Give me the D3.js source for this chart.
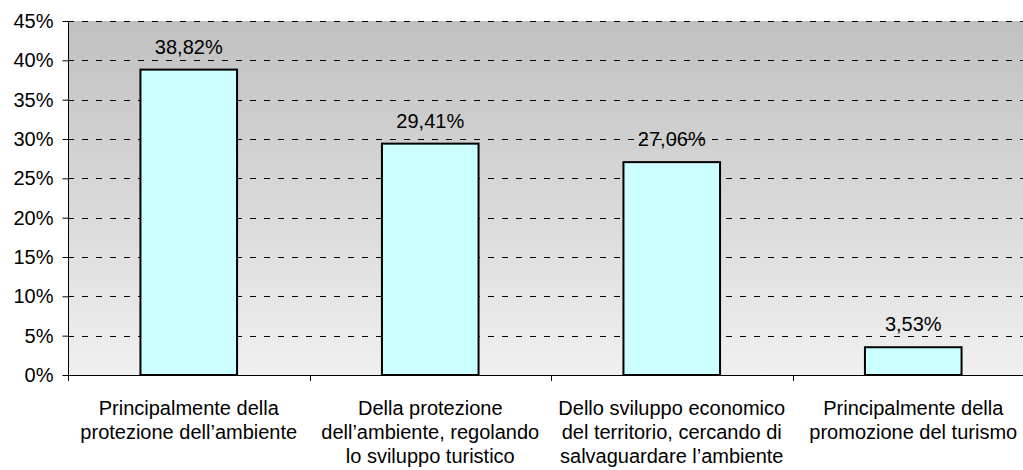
<!DOCTYPE html>
<html>
<head>
<meta charset="utf-8">
<script src="https://cdn.jsdelivr.net/npm/d3@7"></script>
<style>
  body { margin: 0; background: #fff; }
  svg text { font-family: "Liberation Sans", Arial, sans-serif; fill: #000; }
</style>
</head>
<body>
<div id="chart"></div>
<script>
const categories = [
    ["Principalmente della", "protezione dell’ambiente"],
    ["Della protezione", "dell’ambiente, regolando", "lo sviluppo turistico"],
    ["Dello sviluppo economico", "del territorio, cercando di", "salvaguardare l’ambiente"],
    ["Principalmente della", "promozione del turismo"]
];
const values = [38.82, 29.41, 27.06, 3.53];
const valueLabels = ["38,82%", "29,41%", "27,06%", "3,53%"];
const yTicks = [0, 5, 10, 15, 20, 25, 30, 35, 40, 45];

const width = 1023, height = 470;
const plotLeft = 68, plotTop = 21, plotBottom = 375, bandW = 241.5;
const fontSize = 20;

const svg = d3.select("#chart").append("svg")
    .attr("width", width)
    .attr("height", height);

const grad = svg.append("defs").append("linearGradient")
    .attr("id", "bg").attr("x1", 0).attr("y1", 0).attr("x2", 0).attr("y2", 1);
grad.append("stop").attr("offset", "0%").attr("stop-color", "#c0c0c0");
grad.append("stop").attr("offset", "100%").attr("stop-color", "#f0f0f0");

const x = d3.scaleBand()
    .domain(d3.range(categories.length))
    .range([plotLeft, plotLeft + bandW * categories.length])
    .paddingInner(0.6)
    .paddingOuter(0.3);

const y = d3.scaleLinear()
    .domain([0, 45])
    .range([plotBottom, plotTop]);

// plot background
svg.append("rect")
    .attr("x", plotLeft).attr("y", plotTop)
    .attr("width", width - plotLeft).attr("height", plotBottom - plotTop)
    .attr("fill", "url(#bg)");

// dashed gridlines
svg.append("g").selectAll("line")
    .data(yTicks.filter(d => d > 0))
    .join("line")
    .attr("x1", plotLeft).attr("x2", width)
    .attr("y1", d => Math.round(y(d)) + 0.5).attr("y2", d => Math.round(y(d)) + 0.5)
    .attr("stroke", "#000")
    .attr("stroke-dasharray", "6,8");

// y axis
const yAxis = svg.append("g")
    .attr("transform", `translate(${plotLeft + 0.5},0)`)
    .call(d3.axisLeft(y).tickValues(yTicks).tickFormat(d => d + "%").tickSize(6).tickPadding(9).tickSizeOuter(0));
yAxis.select(".domain").remove();
yAxis.selectAll("line").attr("stroke", "#000");
yAxis.selectAll("text").attr("font-size", fontSize).attr("fill", "#000");
svg.append("line")
    .attr("x1", plotLeft + 0.5).attr("x2", plotLeft + 0.5)
    .attr("y1", plotTop).attr("y2", plotBottom + 6)
    .attr("stroke", "#000");

// bars
svg.append("g").selectAll("rect")
    .data(values)
    .join("rect")
    .attr("x", (d, i) => x(i))
    .attr("y", d => y(d))
    .attr("width", x.bandwidth())
    .attr("height", d => plotBottom - y(d))
    .attr("fill", "#ccffff")
    .attr("stroke", "#000")
    .attr("stroke-width", 2);

// x axis line and category ticks
svg.append("line")
    .attr("x1", plotLeft).attr("x2", width)
    .attr("y1", plotBottom + 0.5).attr("y2", plotBottom + 0.5)
    .attr("stroke", "#000");
svg.append("g").selectAll("line")
    .data(d3.range(1, categories.length))
    .join("line")
    .attr("x1", i => Math.round(plotLeft + bandW * i) + 0.5)
    .attr("x2", i => Math.round(plotLeft + bandW * i) + 0.5)
    .attr("y1", plotBottom).attr("y2", plotBottom + 6)
    .attr("stroke", "#000");

// value labels
svg.append("g").selectAll("text")
    .data(values)
    .join("text")
    .attr("x", (d, i) => x(i) + x.bandwidth() / 2)
    .attr("y", d => y(d) - 16)
    .attr("text-anchor", "middle")
    .attr("font-size", fontSize)
    .text((d, i) => valueLabels[i]);

// category labels
const cat = svg.append("g").selectAll("text")
    .data(categories)
    .join("text")
    .attr("text-anchor", "middle")
    .attr("font-size", fontSize);
cat.selectAll("tspan")
    .data((d, i) => d.map(line => ({line, i})))
    .join("tspan")
    .attr("x", d => x(d.i) + x.bandwidth() / 2)
    .attr("y", (d, j) => 415 + j * 24)
    .text(d => d.line);
</script>
</body>
</html>
